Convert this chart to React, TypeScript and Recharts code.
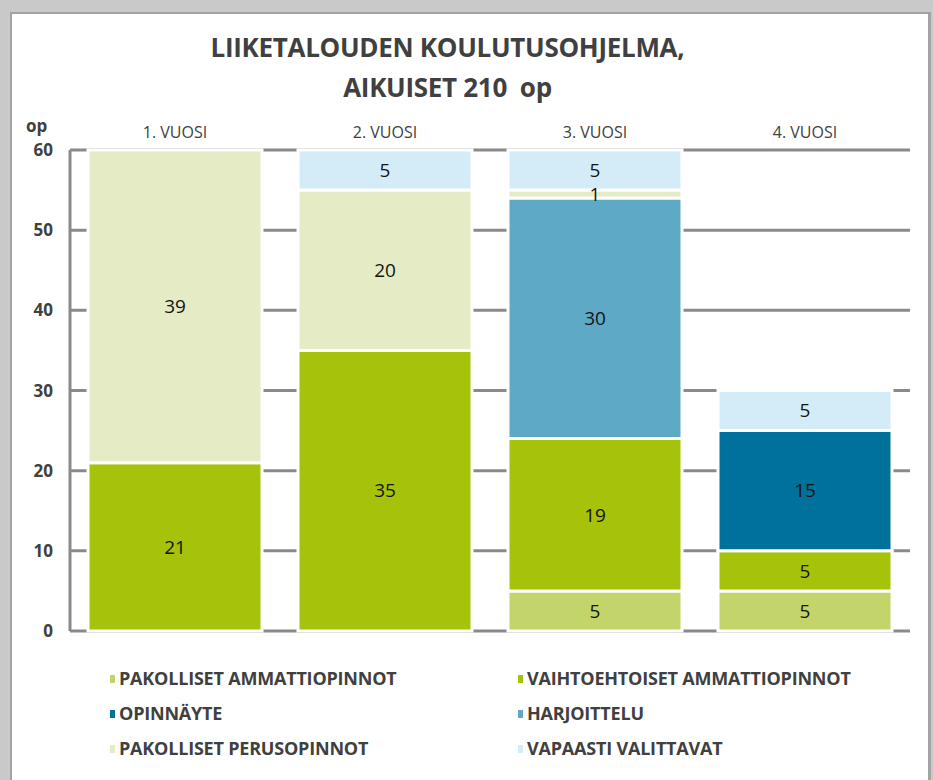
import { Bar, BarChart, CartesianGrid, LabelList, XAxis, YAxis } from 'recharts';

const years = ['1. VUOSI', '2. VUOSI', '3. VUOSI', '4. VUOSI'];

const pakollisetAmmatti = [null, null, 5, 5];
const vaihtoehtoisetAmmatti = [21, 35, 19, 5];
const opinnayte = [null, null, null, 15];
const harjoittelu = [null, null, 30, null];
const pakollisetPerus = [39, 20, 1, null];
const vapaastiValittavat = [null, 5, 5, 5];

const yTicks = [0, 10, 20, 30, 40, 50, 60];

const series = [
  { key: 'pakAmm', name: 'PAKOLLISET AMMATTIOPINNOT', values: pakollisetAmmatti, color: '#c3d46b' },
  { key: 'vaihtAmm', name: 'VAIHTOEHTOISET AMMATTIOPINNOT', values: vaihtoehtoisetAmmatti, color: '#a6c20a' },
  { key: 'opinnayte', name: 'OPINNÄYTE', values: opinnayte, color: '#00719b' },
  { key: 'harjoittelu', name: 'HARJOITTELU', values: harjoittelu, color: '#5eaac6' },
  { key: 'perus', name: 'PAKOLLISET PERUSOPINNOT', values: pakollisetPerus, color: '#e4ebc5' },
  { key: 'vapaasti', name: 'VAPAASTI VALITTAVAT', values: vapaastiValittavat, color: '#d4ecf7' },
];

const data = years.map((year, i) => {
  const row: Record<string, string | number | null> = { year };
  series.forEach((s) => {
    row[s.key] = s.values[i];
  });
  return row;
});

const font = '"Open Sans", sans-serif';
const textGray = '#404040';

export default function App() {
  return (
    <div style={{ position: 'relative', width: 933, height: 780, background: '#c9c9c9', overflow: 'hidden' }}>
      <style>{'body{margin:0}'}</style>
      <div
        style={{
          position: 'absolute',
          left: 10,
          top: 12,
          width: 916,
          height: 800,
          background: '#fff',
          borderLeft: '2px solid #a3a3a3',
          borderTop: '2px solid #a3a3a3',
          borderRight: '3px solid #a3a3a3',
        }}
      />
      <div
        style={{
          position: 'absolute',
          left: 0,
          top: 27,
          width: 895,
          textAlign: 'center',
          fontFamily: font,
          fontWeight: 700,
          fontSize: 26,
          lineHeight: '40px',
          color: textGray,
          letterSpacing: -0.3,
        }}
      >
        LIIKETALOUDEN KOULUTUSOHJELMA,
        <br />
        AIKUISET 210&nbsp;&nbsp;op
      </div>
      <div
        style={{
          position: 'absolute',
          left: 26,
          top: 114,
          fontFamily: font,
          fontWeight: 700,
          fontSize: 17,
          color: textGray,
        }}
      >
        op
      </div>
      <div style={{ position: 'absolute', left: 0, top: 0 }}>
        <BarChart
          width={933}
          height={780}
          data={data}
          margin={{ top: 120, right: 23, bottom: 149, left: 10 }}
          barSize={174}
        >
          <CartesianGrid vertical={false} stroke="#8a8a8a" strokeWidth={3} />
          <XAxis
            xAxisId="top"
            dataKey="year"
            orientation="top"
            height={30}
            axisLine={false}
            tickLine={false}
            tickSize={0}
            tickMargin={12}
            tick={{ fontFamily: font, fontSize: 16, fill: textGray }}
          />
          <YAxis
            type="number"
            domain={[0, 60]}
            ticks={yTicks}
            width={60}
            tickLine={false}
            tickSize={0}
            tickMargin={17}
            axisLine={{ stroke: '#8a8a8a', strokeWidth: 3 }}
            tick={{ fontFamily: font, fontWeight: 700, fontSize: 17, fill: textGray }}
          />
          {series.map((s) => (
            <Bar
              key={s.key}
              xAxisId="top"
              dataKey={s.key}
              name={s.name}
              stackId="a"
              fill={s.color}
              stroke="#fff"
              strokeWidth={3}
              isAnimationActive={false}
            >
              <LabelList dataKey={s.key} position="center" fill="#141414" fontSize={19} fontFamily={font} />
            </Bar>
          ))}
        </BarChart>
      </div>
      <div
        style={{
          position: 'absolute',
          left: 110,
          top: 667,
          display: 'grid',
          gridTemplateColumns: '408px 380px',
          rowGap: 12,
          fontFamily: font,
          fontWeight: 700,
          fontSize: 18,
          lineHeight: '23px',
          color: textGray,
          letterSpacing: -0.2,
        }}
      >
        {series.map((s) => (
          <div key={s.key} style={{ display: 'flex', alignItems: 'center' }}>
            <span style={{ display: 'inline-block', width: 5, height: 8, background: s.color, marginRight: 4 }} />
            {s.name}
          </div>
        ))}
      </div>
    </div>
  );
}
